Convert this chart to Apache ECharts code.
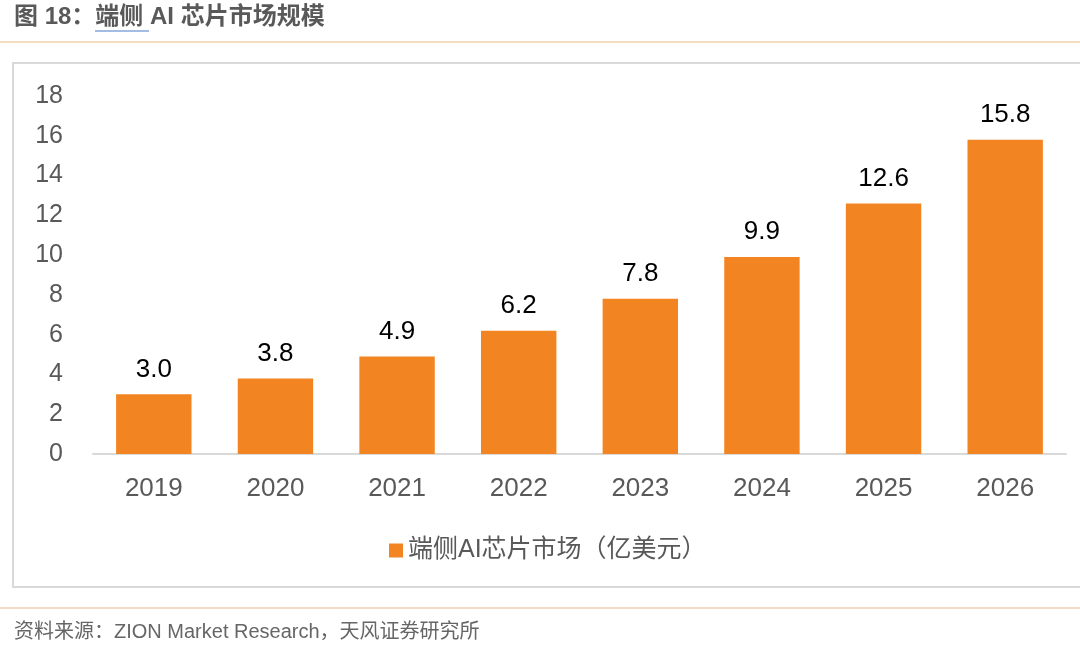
<!DOCTYPE html>
<html>
<head>
<meta charset="utf-8">
<script src="https://cdn.jsdelivr.net/npm/echarts@6/dist/echarts.min.js"></script>
<style>
html,body{margin:0;padding:0;background:#fff;}
#main{width:1080px;height:658px;}
</style>
</head>
<body>
<div id="main"></div>
<script>
var years = ['2019', '2020', '2021', '2022', '2023', '2024', '2025', '2026'];
var marketSize = [3.0, 3.8, 4.9, 6.2, 7.8, 9.9, 12.6, 15.8];
var seriesName = '端侧AI芯片市场（亿美元）';

var fontFamily = '"Liberation Sans", Arial, "Noto Sans CJK SC", sans-serif';

var myChart = echarts.init(document.getElementById('main'));
var option = {
    backgroundColor: '#fff',
    textStyle: { fontFamily: fontFamily },
    graphic: [
        // 标题
        { type: 'text', left: 14, top: 5, style: { text: '图 18：端侧 AI 芯片市场规模', font: 'bold 24px ' + fontFamily, fill: '#595959' } },
        { type: 'line', shape: { x1: 95, y1: 31, x2: 149, y2: 31 }, style: { stroke: '#4a78c8', lineWidth: 1.2 } },
        { type: 'line', shape: { x1: 0, y1: 42, x2: 1080, y2: 42 }, style: { stroke: '#f2cfae', lineWidth: 1.5 } },
        // 图框
        { type: 'rect', shape: { x: 13, y: 63, width: 1080, height: 524 }, style: { fill: 'none', stroke: '#d9d9d9', lineWidth: 2 } },
        // 资料来源
        { type: 'line', shape: { x1: 0, y1: 608, x2: 1080, y2: 608 }, style: { stroke: '#f2cfae', lineWidth: 1.5 } },
        { type: 'text', left: 14, top: 622, style: { text: '资料来源：ZION Market Research，天风证券研究所', font: '20px ' + fontFamily, fill: '#666' } }
    ],
    legend: {
        data: [seriesName],
        top: 533,
        left: 384,
        icon: 'rect',
        itemWidth: 14,
        itemHeight: 14,
        itemGap: 6,
        textStyle: { fontSize: 25, color: '#595959' }
    },
    grid: { left: 93, right: 14, top: 96, bottom: 204 },
    xAxis: {
        type: 'category',
        data: years,
        axisLine: { lineStyle: { color: '#d9d9d9', width: 2 } },
        axisTick: { show: false },
        axisLabel: { fontSize: 26, color: '#595959', margin: 22 }
    },
    yAxis: {
        type: 'value',
        min: 0,
        max: 18,
        interval: 2,
        axisLine: { show: false },
        axisTick: { show: false },
        splitLine: { show: false },
        axisLabel: { fontSize: 25, color: '#595959', margin: 30 }
    },
    series: [{
        name: seriesName,
        type: 'bar',
        data: marketSize,
        barWidth: '62%',
        itemStyle: { color: '#f28522' },
        label: {
            show: true,
            position: 'top',
            distance: 12,
            fontSize: 26,
            color: '#000',
            formatter: function (p) { return p.value.toFixed(1); }
        }
    }]
};
myChart.setOption(option);
</script>
</body>
</html>
